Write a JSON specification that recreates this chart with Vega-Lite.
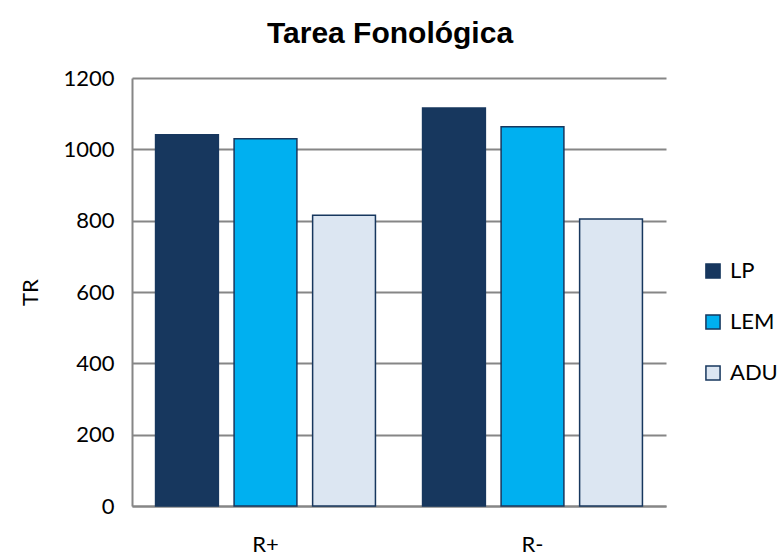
{
  "$schema": "https://vega.github.io/schema/vega-lite/v6.json",
  "width": 534,
  "height": 428,
  "autosize": {"type": "none"},
  "padding": {"left": 132, "top": 78, "right": 114, "bottom": 50},
  "background": "white",
  "title": {
    "text": "Tarea Fonológica",
    "font": "Liberation Sans",
    "fontSize": 30,
    "fontWeight": "bold",
    "color": "#000000",
    "anchor": "middle",
    "dx": -9,
    "offset": 18
  },
  "data": {
    "values": [
      {"cond": "R+", "group": "LP", "TR": 1041},
      {"cond": "R+", "group": "LEM", "TR": 1030},
      {"cond": "R+", "group": "ADU", "TR": 815},
      {"cond": "R-", "group": "LP", "TR": 1116},
      {"cond": "R-", "group": "LEM", "TR": 1063},
      {"cond": "R-", "group": "ADU", "TR": 805}
    ]
  },
  "mark": {"type": "bar", "stroke": "#17375E", "strokeWidth": 1.5},
  "encoding": {
    "x": {
      "field": "cond",
      "type": "nominal",
      "sort": ["R+", "R-"],
      "scale": {"paddingInner": 0, "paddingOuter": 0},
      "axis": {
        "title": null,
        "labelAngle": 0,
        "labelFont": "Lato",
        "labelFontSize": 22,
        "labelColor": "#000000",
        "labelPadding": 28,
        "ticks": false,
        "domainColor": "#868686",
        "domainWidth": 2
      }
    },
    "xOffset": {
      "field": "group",
      "type": "nominal",
      "sort": ["LP", "LEM", "ADU"],
      "scale": {"paddingInner": 0.2, "paddingOuter": 0.3}
    },
    "y": {
      "field": "TR",
      "type": "quantitative",
      "scale": {"domain": [0, 1200], "nice": false},
      "axis": {
        "title": "TR",
        "titleFont": "Lato",
        "titleFontSize": 22,
        "titleFontWeight": "normal",
        "titleColor": "#000000",
        "titlePadding": 20,
        "format": "d",
        "values": [0, 200, 400, 600, 800, 1000, 1200],
        "labelFont": "Lato",
        "labelFontSize": 22,
        "labelColor": "#000000",
        "labelPadding": 18,
        "ticks": false,
        "domainColor": "#868686",
        "domainWidth": 2,
        "gridColor": "#868686",
        "gridWidth": 2
      }
    },
    "color": {
      "field": "group",
      "type": "nominal",
      "sort": ["LP", "LEM", "ADU"],
      "scale": {"domain": ["LP", "LEM", "ADU"], "range": ["#17375E", "#00B0F0", "#DCE6F2"]},
      "legend": {
        "title": null,
        "orient": "none",
        "legendX": 570,
        "legendY": 182,
        "symbolType": "square",
        "symbolSize": 200,
        "symbolStrokeColor": "#17375E",
        "symbolStrokeWidth": 1.5,
        "labelFont": "Lato",
        "labelFontSize": 22,
        "labelColor": "#000000",
        "rowPadding": 29,
        "labelOffset": 6
      }
    }
  },
  "config": {"view": {"stroke": null}, "axis": {"gridOpacity": 1}}
}
